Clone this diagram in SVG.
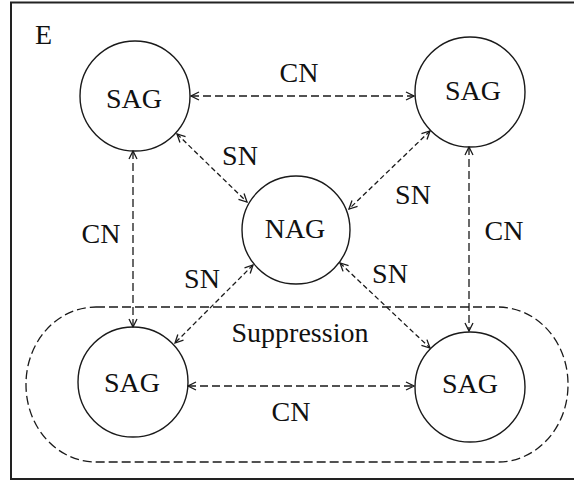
<svg xmlns="http://www.w3.org/2000/svg" width="574" height="481" viewBox="0 0 574 481">
  <style>
    .frame { fill: none; stroke: #222; stroke-width: 2; }
    .node { fill: none; stroke: #1a1a1a; stroke-width: 1.4; }
    .group { fill: none; stroke: #1a1a1a; stroke-width: 1.3; stroke-dasharray: 9 4; }
    .cn { fill: none; stroke: #1a1a1a; stroke-width: 1.3; stroke-dasharray: 8 4; marker-start: url(#tip); marker-end: url(#tip); }
    .sn { fill: none; stroke: #1a1a1a; stroke-width: 1.3; stroke-dasharray: 5 3; marker-start: url(#tip); marker-end: url(#tip); }
    text { font-family: "Liberation Serif", "Times New Roman", serif; font-size: 28px; fill: #111; }
    .c { text-anchor: middle; }
  </style>
  <defs>
    <marker id="tip" viewBox="0 0 10 10" refX="9" refY="5" markerWidth="10" markerHeight="10" markerUnits="userSpaceOnUse" orient="auto-start-reverse">
      <path d="M1,1 L9,5 L1,9" fill="none" stroke="#1a1a1a" stroke-width="1.3"/>
    </marker>
  </defs>

  <rect width="574" height="481" fill="#fff"/>

  <!-- environment frame (open on the right) -->
  <path class="frame" d="M574,2.5 H11 V479 H574"/>
  <text x="35" y="44">E</text>

  <!-- suppression region -->
  <g id="suppression">
    <rect class="group" x="26" y="307" width="542" height="155" rx="70" ry="77"/>
    <text class="c" x="300" y="342">Suppression</text>
  </g>

  <!-- connectors -->
  <g id="connectors">
    <line class="cn" x1="191" y1="96" x2="414" y2="96"/>
    <line class="cn" x1="133" y1="151" x2="133" y2="327"/>
    <line class="cn" x1="469" y1="147" x2="469" y2="331"/>
    <line class="cn" x1="188" y1="386" x2="414" y2="386"/>
    <line class="sn" x1="177" y1="134" x2="247" y2="202"/>
    <line class="sn" x1="430" y1="131" x2="349" y2="209"/>
    <line class="sn" x1="253" y1="265" x2="175" y2="343"/>
    <line class="sn" x1="340" y1="263" x2="430" y2="348"/>
    <text class="c" x="299" y="82">CN</text>
    <text class="c" x="101" y="243">CN</text>
    <text class="c" x="504" y="240">CN</text>
    <text class="c" x="291" y="421">CN</text>
    <text class="c" x="240" y="165">SN</text>
    <text class="c" x="413" y="204">SN</text>
    <text class="c" x="202" y="288">SN</text>
    <text class="c" x="390" y="283">SN</text>
  </g>

  <!-- agents -->
  <g id="sag-top-left">
    <circle class="node" cx="135" cy="96" r="55"/>
    <text class="c" x="134" y="108">SAG</text>
  </g>
  <g id="sag-top-right">
    <circle class="node" cx="470" cy="92" r="55"/>
    <text class="c" x="473" y="100">SAG</text>
  </g>
  <g id="nag">
    <circle class="node" cx="296" cy="230" r="54"/>
    <text class="c" x="295" y="238">NAG</text>
  </g>
  <g id="sag-bottom-left">
    <circle class="node" cx="133" cy="382" r="55"/>
    <text class="c" x="132" y="392">SAG</text>
  </g>
  <g id="sag-bottom-right">
    <circle class="node" cx="470" cy="387" r="55"/>
    <text class="c" x="470" y="393">SAG</text>
  </g>
</svg>
